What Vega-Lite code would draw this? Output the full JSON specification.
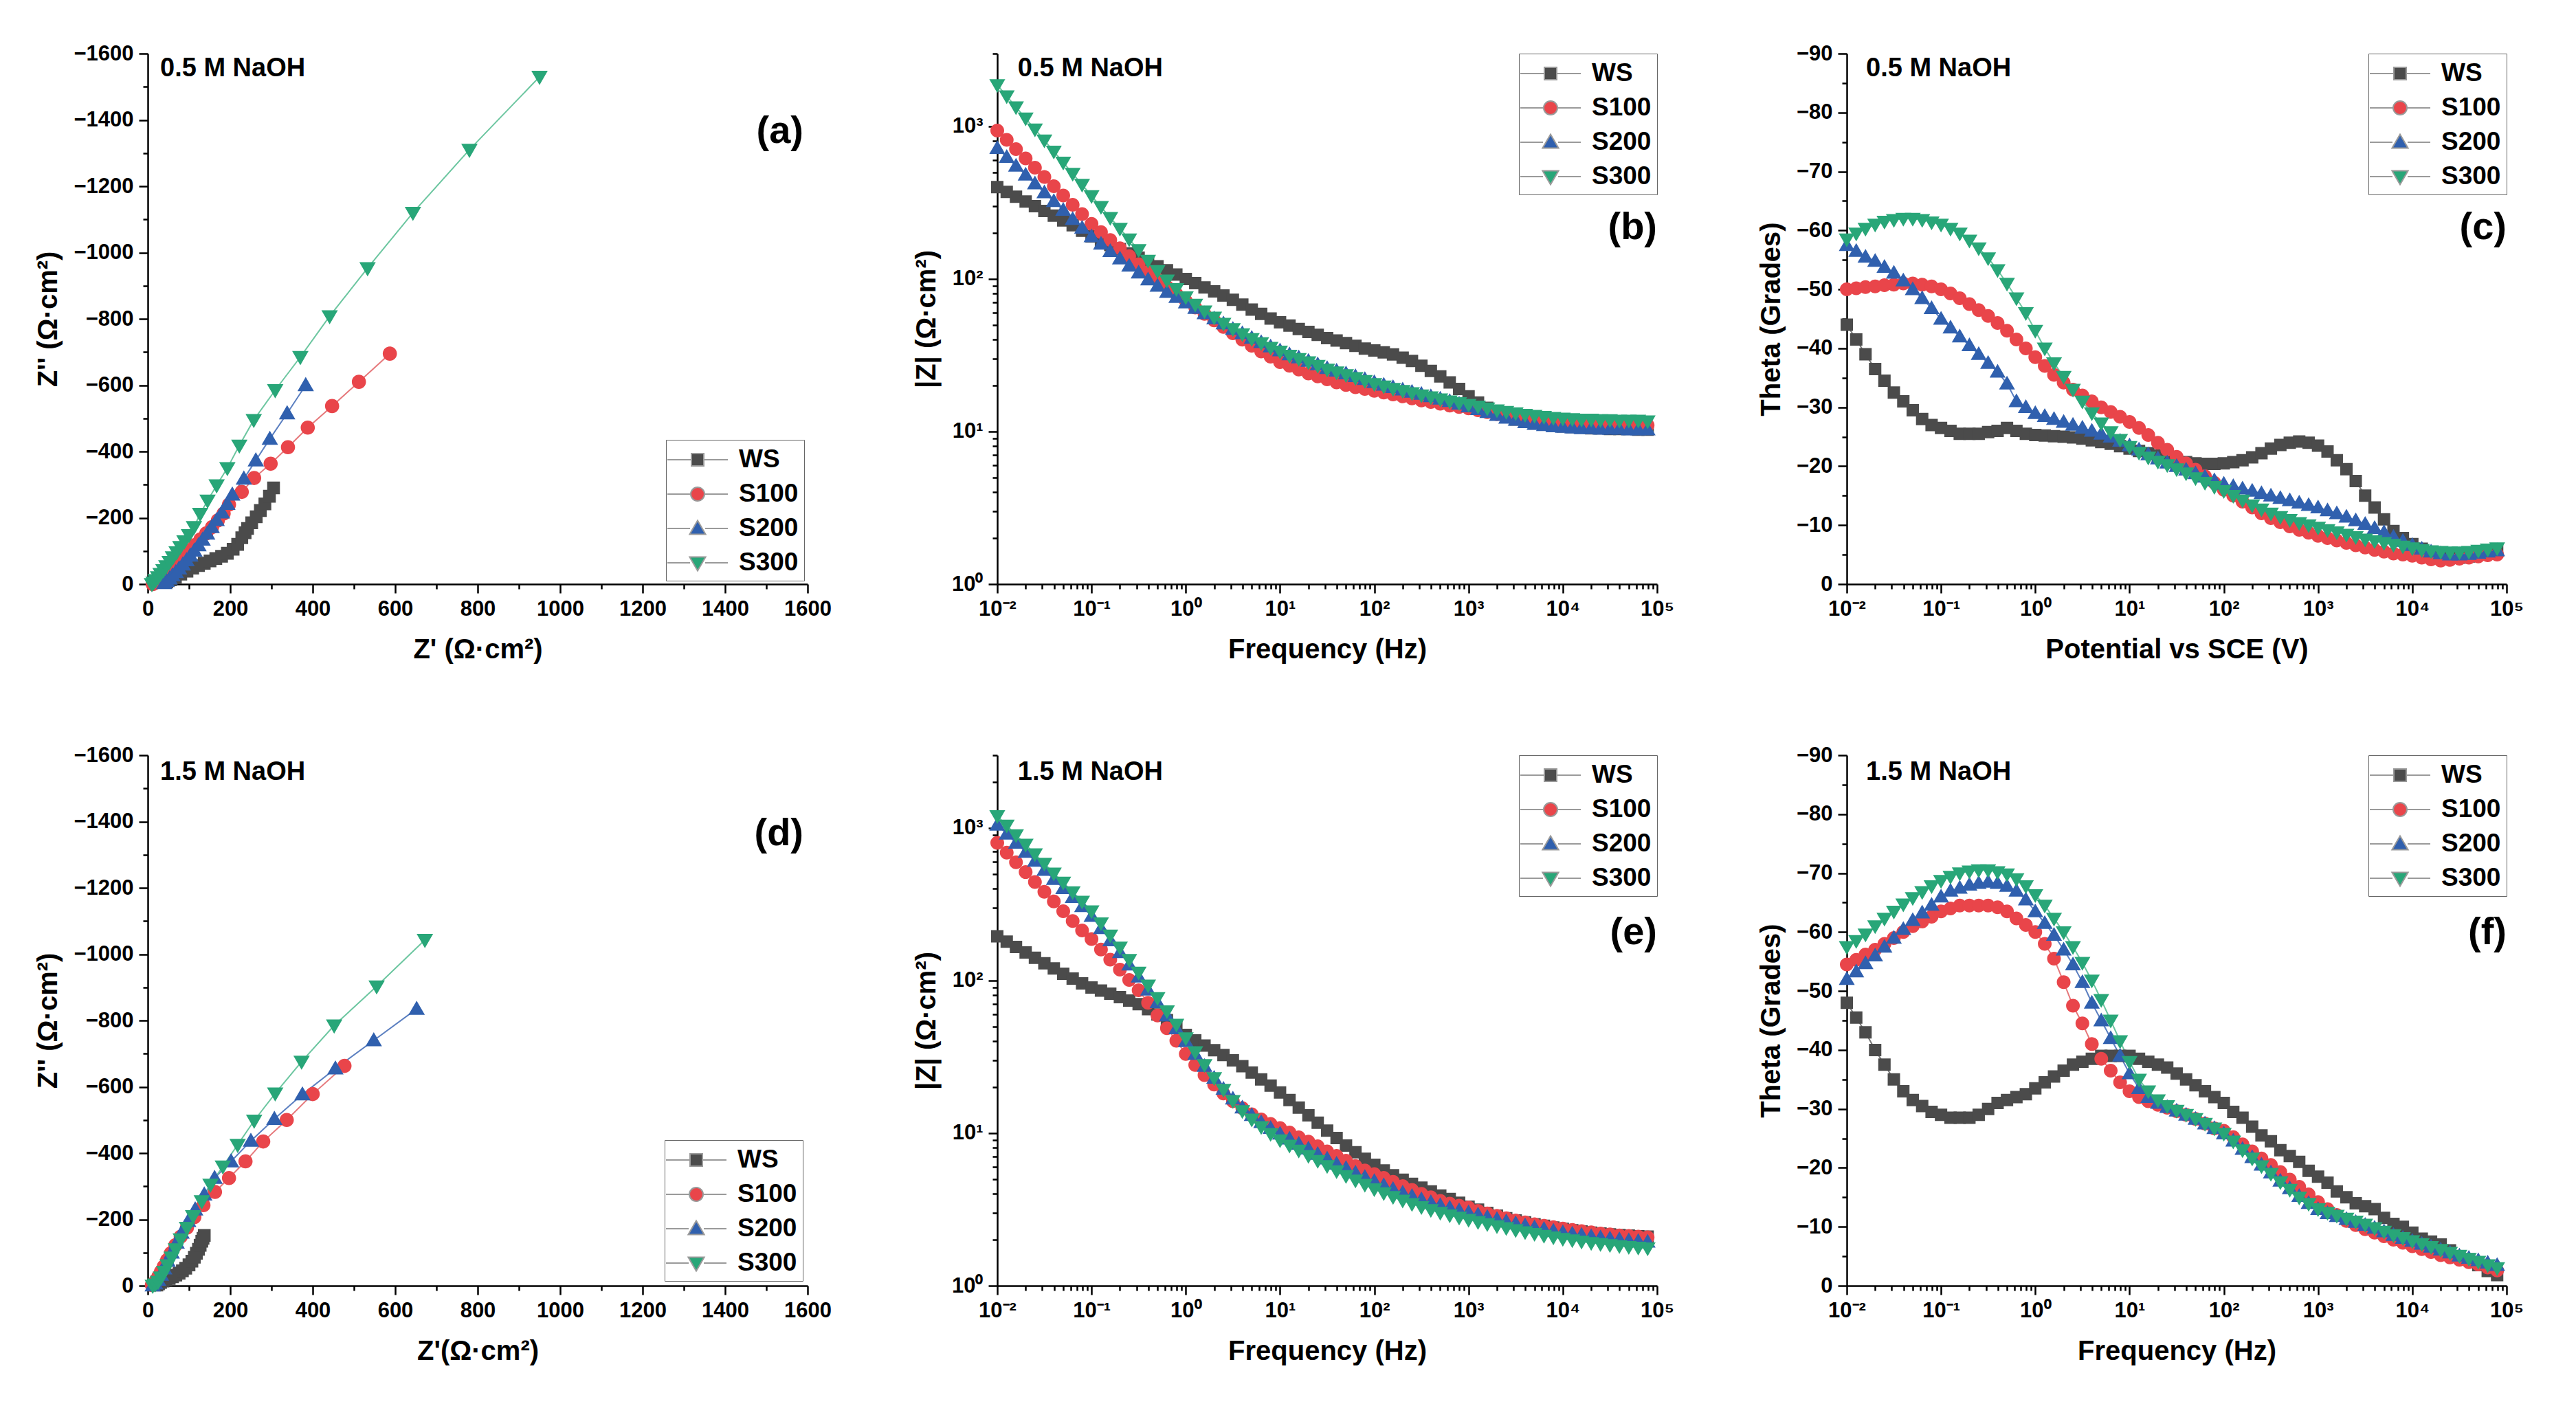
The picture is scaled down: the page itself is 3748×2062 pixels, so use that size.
{
"$schema":"https://vega.github.io/schema/vega-lite/v6.json",
"padding":{"left":50,"top":62,"right":5,"bottom":5},
"autosize":{"type":"pad"},
"background":"white",
"config":{
"font":"Liberation Sans",
"view":{"stroke":null},
"axis":{"grid":false,"domainColor":"#000","domainWidth":2.5,"tickColor":"#000","tickWidth":2.5,"labelFont":"Liberation Sans","labelFontSize":31,"labelFontWeight":"bold","labelColor":"#000","titleFont":"Liberation Sans","titleFontSize":40,"titleFontWeight":"bold","titleColor":"#000","labelOverlap":false,"labelFlush":false,"labelPadding":8,"titlePadding":16},
"axisX":{"titlePadding":24},
"legend":{"labelFont":"Liberation Sans","labelFontSize":37,"labelFontWeight":"bold","labelColor":"#000","strokeColor":"#666","fillColor":"#fff","padding":8,"rowPadding":11,"symbolSize":1600,"symbolStrokeWidth":2,"symbolStrokeColor":"#9a9a9a","symbolOffset":17,"labelOffset":39,"offset":0}
},
"datasets":{
"n05":[
{"s":"WS","x":46,"y":-7},{"s":"WS","x":55,"y":-13},{"s":"WS","x":67,"y":-21},{"s":"WS","x":80,"y":-30},{"s":"WS","x":95,"y":-39},{"s":"WS","x":109,"y":-48},{"s":"WS","x":123,"y":-56},{"s":"WS","x":137,"y":-63},{"s":"WS","x":151,"y":-70},{"s":"WS","x":165,"y":-77},{"s":"WS","x":179,"y":-84},{"s":"WS","x":193,"y":-93},{"s":"WS","x":207,"y":-105},{"s":"WS","x":218,"y":-120},{"s":"WS","x":228,"y":-140},{"s":"WS","x":236,"y":-155},{"s":"WS","x":242,"y":-168},{"s":"WS","x":252,"y":-185},{"s":"WS","x":263,"y":-203},{"s":"WS","x":273,"y":-222},{"s":"WS","x":284,"y":-242},{"s":"WS","x":295,"y":-265},{"s":"WS","x":305,"y":-290},
{"s":"S100","x":12,"y":0},{"s":"S100","x":18,"y":-4},{"s":"S100","x":25,"y":-10},{"s":"S100","x":32,"y":-17},{"s":"S100","x":40,"y":-26},{"s":"S100","x":49,"y":-37},{"s":"S100","x":58,"y":-48},{"s":"S100","x":68,"y":-60},{"s":"S100","x":79,"y":-73},{"s":"S100","x":90,"y":-87},{"s":"S100","x":102,"y":-102},{"s":"S100","x":115,"y":-118},{"s":"S100","x":128,"y":-135},{"s":"S100","x":142,"y":-153},{"s":"S100","x":156,"y":-172},{"s":"S100","x":170,"y":-192},{"s":"S100","x":184,"y":-213},{"s":"S100","x":197,"y":-240},{"s":"S100","x":228,"y":-278},{"s":"S100","x":258,"y":-320},{"s":"S100","x":298,"y":-363},{"s":"S100","x":340,"y":-413},{"s":"S100","x":388,"y":-472},{"s":"S100","x":447,"y":-537},{"s":"S100","x":512,"y":-610},{"s":"S100","x":587,"y":-695},
{"s":"S200","x":40,"y":-3},{"s":"S200","x":46,"y":-9},{"s":"S200","x":53,"y":-17},{"s":"S200","x":60,"y":-26},{"s":"S200","x":68,"y":-36},{"s":"S200","x":76,"y":-47},{"s":"S200","x":85,"y":-59},{"s":"S200","x":94,"y":-72},{"s":"S200","x":103,"y":-86},{"s":"S200","x":113,"y":-101},{"s":"S200","x":123,"y":-117},{"s":"S200","x":133,"y":-134},{"s":"S200","x":144,"y":-152},{"s":"S200","x":155,"y":-172},{"s":"S200","x":167,"y":-193},{"s":"S200","x":180,"y":-216},{"s":"S200","x":193,"y":-242},{"s":"S200","x":205,"y":-270},{"s":"S200","x":233,"y":-318},{"s":"S200","x":262,"y":-373},{"s":"S200","x":296,"y":-438},{"s":"S200","x":338,"y":-515},{"s":"S200","x":383,"y":-600},
{"s":"S300","x":10,"y":0},{"s":"S300","x":14,"y":-5},{"s":"S300","x":19,"y":-12},{"s":"S300","x":25,"y":-21},{"s":"S300","x":31,"y":-31},{"s":"S300","x":38,"y":-42},{"s":"S300","x":45,"y":-54},{"s":"S300","x":53,"y":-67},{"s":"S300","x":61,"y":-81},{"s":"S300","x":70,"y":-96},{"s":"S300","x":79,"y":-112},{"s":"S300","x":89,"y":-129},{"s":"S300","x":100,"y":-148},{"s":"S300","x":112,"y":-172},{"s":"S300","x":127,"y":-212},{"s":"S300","x":145,"y":-252},{"s":"S300","x":167,"y":-298},{"s":"S300","x":193,"y":-350},{"s":"S300","x":222,"y":-418},{"s":"S300","x":257,"y":-495},{"s":"S300","x":309,"y":-585},{"s":"S300","x":370,"y":-685},{"s":"S300","x":441,"y":-808},{"s":"S300","x":533,"y":-953},{"s":"S300","x":643,"y":-1120},{"s":"S300","x":780,"y":-1310},{"s":"S300","x":950,"y":-1530}
],
"n15":[
{"s":"WS","x":22,"y":-2},{"s":"WS","x":26,"y":-6},{"s":"WS","x":31,"y":-10},{"s":"WS","x":37,"y":-14},{"s":"WS","x":44,"y":-18},{"s":"WS","x":52,"y":-22},{"s":"WS","x":60,"y":-27},{"s":"WS","x":68,"y":-32},{"s":"WS","x":76,"y":-38},{"s":"WS","x":84,"y":-45},{"s":"WS","x":92,"y":-53},{"s":"WS","x":100,"y":-63},{"s":"WS","x":107,"y":-74},{"s":"WS","x":113,"y":-86},{"s":"WS","x":118,"y":-98},{"s":"WS","x":123,"y":-110},{"s":"WS","x":127,"y":-122},{"s":"WS","x":131,"y":-134},{"s":"WS","x":134,"y":-143},{"s":"WS","x":137,"y":-152},
{"s":"S100","x":10,"y":-2},{"s":"S100","x":15,"y":-7},{"s":"S100","x":20,"y":-16},{"s":"S100","x":26,"y":-28},{"s":"S100","x":32,"y":-42},{"s":"S100","x":39,"y":-58},{"s":"S100","x":47,"y":-77},{"s":"S100","x":56,"y":-98},{"s":"S100","x":67,"y":-122},{"s":"S100","x":80,"y":-148},{"s":"S100","x":95,"y":-175},{"s":"S100","x":113,"y":-207},{"s":"S100","x":135,"y":-243},{"s":"S100","x":163,"y":-283},{"s":"S100","x":197,"y":-325},{"s":"S100","x":237,"y":-375},{"s":"S100","x":280,"y":-435},{"s":"S100","x":337,"y":-500},{"s":"S100","x":400,"y":-578},{"s":"S100","x":477,"y":-663},
{"s":"S200","x":12,"y":-1},{"s":"S200","x":18,"y":-7},{"s":"S200","x":25,"y":-18},{"s":"S200","x":32,"y":-33},{"s":"S200","x":40,"y":-52},{"s":"S200","x":48,"y":-75},{"s":"S200","x":58,"y":-100},{"s":"S200","x":70,"y":-130},{"s":"S200","x":82,"y":-160},{"s":"S200","x":98,"y":-195},{"s":"S200","x":115,"y":-230},{"s":"S200","x":137,"y":-275},{"s":"S200","x":162,"y":-325},{"s":"S200","x":202,"y":-375},{"s":"S200","x":250,"y":-437},{"s":"S200","x":307,"y":-503},{"s":"S200","x":375,"y":-577},{"s":"S200","x":455,"y":-655},{"s":"S200","x":548,"y":-740},{"s":"S200","x":652,"y":-835},
{"s":"S300","x":12,"y":0},{"s":"S300","x":18,"y":-4},{"s":"S300","x":25,"y":-12},{"s":"S300","x":32,"y":-25},{"s":"S300","x":40,"y":-42},{"s":"S300","x":48,"y":-62},{"s":"S300","x":58,"y":-85},{"s":"S300","x":68,"y":-110},{"s":"S300","x":80,"y":-140},{"s":"S300","x":95,"y":-175},{"s":"S300","x":110,"y":-210},{"s":"S300","x":131,"y":-255},{"s":"S300","x":152,"y":-305},{"s":"S300","x":182,"y":-360},{"s":"S300","x":218,"y":-425},{"s":"S300","x":258,"y":-498},{"s":"S300","x":309,"y":-580},{"s":"S300","x":373,"y":-676},{"s":"S300","x":452,"y":-785},{"s":"S300","x":555,"y":-903},{"s":"S300","x":672,"y":-1043}
],
"b05":[
{"f":0.01,"s":"WS","z":400,"p":-44},{"f":0.0126,"s":"WS","z":372,"p":-41.5},{"f":0.0158,"s":"WS","z":346,"p":-39},{"f":0.02,"s":"WS","z":322,"p":-36.5},{"f":0.0251,"s":"WS","z":300,"p":-34.5},{"f":0.0316,"s":"WS","z":279,"p":-32.5},{"f":0.0398,"s":"WS","z":260,"p":-31},{"f":0.0501,"s":"WS","z":242,"p":-29.5},{"f":0.0631,"s":"WS","z":225,"p":-28},{"f":0.0794,"s":"WS","z":207,"p":-27},
{"f":0.1,"s":"WS","z":190,"p":-26.5},{"f":0.126,"s":"WS","z":178,"p":-26},{"f":0.158,"s":"WS","z":167,"p":-25.5},{"f":0.2,"s":"WS","z":157,"p":-25.5},{"f":0.251,"s":"WS","z":147,"p":-25.5},{"f":0.316,"s":"WS","z":138,"p":-25.8},{"f":0.398,"s":"WS","z":129,"p":-26},{"f":0.501,"s":"WS","z":121,"p":-26.5},{"f":0.631,"s":"WS","z":114,"p":-26},{"f":0.794,"s":"WS","z":107,"p":-25.5},
{"f":1,"s":"WS","z":100,"p":-25.3},{"f":1.26,"s":"WS","z":94,"p":-25.2},{"f":1.58,"s":"WS","z":88,"p":-25.1},{"f":2,"s":"WS","z":83,"p":-25},{"f":2.51,"s":"WS","z":78,"p":-24.9},{"f":3.16,"s":"WS","z":73,"p":-24.7},{"f":3.98,"s":"WS","z":68,"p":-24.4},{"f":5.01,"s":"WS","z":63,"p":-24.1},{"f":6.31,"s":"WS","z":59,"p":-23.8},{"f":7.94,"s":"WS","z":55,"p":-23.4},
{"f":10,"s":"WS","z":52,"p":-23},{"f":12.6,"s":"WS","z":49.5,"p":-22.6},{"f":15.8,"s":"WS","z":47,"p":-22.2},{"f":20,"s":"WS","z":45,"p":-21.8},{"f":25.1,"s":"WS","z":43,"p":-21.4},{"f":31.6,"s":"WS","z":41,"p":-21},{"f":39.8,"s":"WS","z":39.5,"p":-20.7},{"f":50.1,"s":"WS","z":38,"p":-20.5},{"f":63.1,"s":"WS","z":36.5,"p":-20.4},{"f":79.4,"s":"WS","z":35,"p":-20.4},
{"f":100,"s":"WS","z":34,"p":-20.5},{"f":126,"s":"WS","z":33,"p":-20.7},{"f":158,"s":"WS","z":32,"p":-21},{"f":200,"s":"WS","z":30.5,"p":-21.5},{"f":251,"s":"WS","z":29,"p":-22.2},{"f":316,"s":"WS","z":27,"p":-23},{"f":398,"s":"WS","z":25,"p":-23.6},{"f":501,"s":"WS","z":23,"p":-24},{"f":631,"s":"WS","z":21,"p":-24.2},{"f":794,"s":"WS","z":19,"p":-24},
{"f":1000,"s":"WS","z":17,"p":-23.5},{"f":1260,"s":"WS","z":15.5,"p":-22.5},{"f":1580,"s":"WS","z":14.3,"p":-21},{"f":2000,"s":"WS","z":13.3,"p":-19.5},{"f":2510,"s":"WS","z":12.5,"p":-17.5},{"f":3160,"s":"WS","z":12,"p":-15},{"f":3980,"s":"WS","z":11.6,"p":-13},{"f":5010,"s":"WS","z":11.3,"p":-11},{"f":6310,"s":"WS","z":11.1,"p":-9},{"f":7940,"s":"WS","z":10.9,"p":-7.8},
{"f":10000,"s":"WS","z":10.8,"p":-6.8},{"f":12600,"s":"WS","z":10.7,"p":-6},{"f":15800,"s":"WS","z":10.6,"p":-5.3},{"f":20000,"s":"WS","z":10.5,"p":-4.8},{"f":25100,"s":"WS","z":10.5,"p":-4.5},{"f":31600,"s":"WS","z":10.4,"p":-4.5},{"f":39800,"s":"WS","z":10.4,"p":-4.7},{"f":50100,"s":"WS","z":10.4,"p":-5},{"f":63100,"s":"WS","z":10.3,"p":-5.3},{"f":79400,"s":"WS","z":10.3,"p":-5.6},
{"f":0.01,"s":"S100","z":940,"p":-50},{"f":0.0126,"s":"S100","z":817,"p":-50.2},{"f":0.0158,"s":"S100","z":710,"p":-50.4},{"f":0.02,"s":"S100","z":617,"p":-50.5},{"f":0.0251,"s":"S100","z":536,"p":-50.7},{"f":0.0316,"s":"S100","z":466,"p":-50.8},{"f":0.0398,"s":"S100","z":405,"p":-51},{"f":0.0501,"s":"S100","z":352,"p":-51},{"f":0.0631,"s":"S100","z":306,"p":-50.8},{"f":0.0794,"s":"S100","z":266,"p":-50.5},
{"f":0.1,"s":"S100","z":230,"p":-50},{"f":0.126,"s":"S100","z":203,"p":-49.3},{"f":0.158,"s":"S100","z":180,"p":-48.5},{"f":0.2,"s":"S100","z":159,"p":-47.5},{"f":0.251,"s":"S100","z":141,"p":-46.5},{"f":0.316,"s":"S100","z":125,"p":-45.5},{"f":0.398,"s":"S100","z":111,"p":-44.3},{"f":0.501,"s":"S100","z":99,"p":-43},{"f":0.631,"s":"S100","z":89,"p":-41.5},{"f":0.794,"s":"S100","z":80,"p":-40},
{"f":1,"s":"S100","z":72,"p":-38.5},{"f":1.26,"s":"S100","z":65,"p":-37},{"f":1.58,"s":"S100","z":59,"p":-35.5},{"f":2,"s":"S100","z":53.5,"p":-34.2},{"f":2.51,"s":"S100","z":48.5,"p":-33},{"f":3.16,"s":"S100","z":44,"p":-32},{"f":3.98,"s":"S100","z":40,"p":-31},{"f":5.01,"s":"S100","z":36.5,"p":-30},{"f":6.31,"s":"S100","z":33.5,"p":-29.2},{"f":7.94,"s":"S100","z":31,"p":-28.4},
{"f":10,"s":"S100","z":28.5,"p":-27.5},{"f":12.6,"s":"S100","z":27,"p":-26.5},{"f":15.8,"s":"S100","z":25.5,"p":-25.3},{"f":20,"s":"S100","z":24,"p":-24},{"f":25.1,"s":"S100","z":23,"p":-22.8},{"f":31.6,"s":"S100","z":22,"p":-21.6},{"f":39.8,"s":"S100","z":21,"p":-20.5},{"f":50.1,"s":"S100","z":20.2,"p":-19.4},{"f":63.1,"s":"S100","z":19.5,"p":-18.3},{"f":79.4,"s":"S100","z":19,"p":-17.2},
{"f":100,"s":"S100","z":18.5,"p":-16},{"f":126,"s":"S100","z":18,"p":-15},{"f":158,"s":"S100","z":17.5,"p":-14},{"f":200,"s":"S100","z":17,"p":-13},{"f":251,"s":"S100","z":16.5,"p":-12},{"f":316,"s":"S100","z":16,"p":-11.2},{"f":398,"s":"S100","z":15.6,"p":-10.5},{"f":501,"s":"S100","z":15.2,"p":-9.8},{"f":631,"s":"S100","z":14.8,"p":-9.2},{"f":794,"s":"S100","z":14.5,"p":-8.7},
{"f":1000,"s":"S100","z":14.2,"p":-8.2},{"f":1260,"s":"S100","z":13.8,"p":-7.8},{"f":1580,"s":"S100","z":13.4,"p":-7.4},{"f":2000,"s":"S100","z":13,"p":-7},{"f":2510,"s":"S100","z":12.6,"p":-6.6},{"f":3160,"s":"S100","z":12.3,"p":-6.2},{"f":3980,"s":"S100","z":12,"p":-5.8},{"f":5010,"s":"S100","z":11.8,"p":-5.5},{"f":6310,"s":"S100","z":11.6,"p":-5.2},{"f":7940,"s":"S100","z":11.5,"p":-5},
{"f":10000,"s":"S100","z":11.4,"p":-4.8},{"f":12600,"s":"S100","z":11.3,"p":-4.5},{"f":15800,"s":"S100","z":11.3,"p":-4.2},{"f":20000,"s":"S100","z":11.2,"p":-4},{"f":25100,"s":"S100","z":11.2,"p":-4.1},{"f":31600,"s":"S100","z":11.1,"p":-4.3},{"f":39800,"s":"S100","z":11.1,"p":-4.5},{"f":50100,"s":"S100","z":11.1,"p":-4.7},{"f":63100,"s":"S100","z":11,"p":-4.9},{"f":79400,"s":"S100","z":11,"p":-5},
{"f":0.01,"s":"S200","z":720,"p":-57.5},{"f":0.0126,"s":"S200","z":630,"p":-56.5},{"f":0.0158,"s":"S200","z":551,"p":-55.5},{"f":0.02,"s":"S200","z":482,"p":-54.8},{"f":0.0251,"s":"S200","z":422,"p":-53.8},{"f":0.0316,"s":"S200","z":369,"p":-52.8},{"f":0.0398,"s":"S200","z":323,"p":-51.5},{"f":0.0501,"s":"S200","z":283,"p":-50},{"f":0.0631,"s":"S200","z":247,"p":-48.5},{"f":0.0794,"s":"S200","z":216,"p":-46.8},
{"f":0.1,"s":"S200","z":190,"p":-45},{"f":0.126,"s":"S200","z":170,"p":-43.5},{"f":0.158,"s":"S200","z":152,"p":-42},{"f":0.2,"s":"S200","z":136,"p":-40.5},{"f":0.251,"s":"S200","z":122,"p":-39},{"f":0.316,"s":"S200","z":110,"p":-37.5},{"f":0.398,"s":"S200","z":99,"p":-36},{"f":0.501,"s":"S200","z":90,"p":-34},{"f":0.631,"s":"S200","z":82,"p":-31},{"f":0.794,"s":"S200","z":76,"p":-30},
{"f":1,"s":"S200","z":70,"p":-29},{"f":1.26,"s":"S200","z":64.5,"p":-28.5},{"f":1.58,"s":"S200","z":59.5,"p":-28},{"f":2,"s":"S200","z":55,"p":-27.5},{"f":2.51,"s":"S200","z":51,"p":-27},{"f":3.16,"s":"S200","z":47,"p":-26.5},{"f":3.98,"s":"S200","z":44,"p":-26},{"f":5.01,"s":"S200","z":41,"p":-25.5},{"f":6.31,"s":"S200","z":38.5,"p":-25},{"f":7.94,"s":"S200","z":36,"p":-24.3},
{"f":10,"s":"S200","z":34,"p":-23.5},{"f":12.6,"s":"S200","z":32,"p":-22.8},{"f":15.8,"s":"S200","z":30.5,"p":-22},{"f":20,"s":"S200","z":29,"p":-21.3},{"f":25.1,"s":"S200","z":27.5,"p":-20.6},{"f":31.6,"s":"S200","z":26,"p":-20},{"f":39.8,"s":"S200","z":25,"p":-19.4},{"f":50.1,"s":"S200","z":24,"p":-18.8},{"f":63.1,"s":"S200","z":23,"p":-18.2},{"f":79.4,"s":"S200","z":22,"p":-17.6},
{"f":100,"s":"S200","z":21,"p":-17},{"f":126,"s":"S200","z":20.2,"p":-16.6},{"f":158,"s":"S200","z":19.5,"p":-16.2},{"f":200,"s":"S200","z":18.8,"p":-15.8},{"f":251,"s":"S200","z":18.2,"p":-15.4},{"f":316,"s":"S200","z":17.6,"p":-15},{"f":398,"s":"S200","z":17,"p":-14.6},{"f":501,"s":"S200","z":16.4,"p":-14.2},{"f":631,"s":"S200","z":15.8,"p":-13.8},{"f":794,"s":"S200","z":15.2,"p":-13.4},
{"f":1000,"s":"S200","z":14.6,"p":-13},{"f":1260,"s":"S200","z":14,"p":-12.5},{"f":1580,"s":"S200","z":13.4,"p":-12},{"f":2000,"s":"S200","z":12.8,"p":-11.4},{"f":2510,"s":"S200","z":12.3,"p":-10.8},{"f":3160,"s":"S200","z":11.9,"p":-10.2},{"f":3980,"s":"S200","z":11.5,"p":-9.5},{"f":5010,"s":"S200","z":11.2,"p":-8.8},{"f":6310,"s":"S200","z":11,"p":-8},{"f":7940,"s":"S200","z":10.8,"p":-7.3},
{"f":10000,"s":"S200","z":10.7,"p":-6.6},{"f":12600,"s":"S200","z":10.6,"p":-6},{"f":15800,"s":"S200","z":10.5,"p":-5.5},{"f":20000,"s":"S200","z":10.5,"p":-5.2},{"f":25100,"s":"S200","z":10.4,"p":-5},{"f":31600,"s":"S200","z":10.4,"p":-5},{"f":39800,"s":"S200","z":10.4,"p":-5.1},{"f":50100,"s":"S200","z":10.3,"p":-5.3},{"f":63100,"s":"S200","z":10.3,"p":-5.5},{"f":79400,"s":"S200","z":10.3,"p":-5.7},
{"f":0.01,"s":"S300","z":1870,"p":-58.5},{"f":0.0126,"s":"S300","z":1580,"p":-59.5},{"f":0.0158,"s":"S300","z":1337,"p":-60.3},{"f":0.02,"s":"S300","z":1131,"p":-61},{"f":0.0251,"s":"S300","z":957,"p":-61.5},{"f":0.0316,"s":"S300","z":810,"p":-61.8},{"f":0.0398,"s":"S300","z":685,"p":-62},{"f":0.0501,"s":"S300","z":580,"p":-62},{"f":0.0631,"s":"S300","z":490,"p":-61.8},{"f":0.0794,"s":"S300","z":415,"p":-61.4},
{"f":0.1,"s":"S300","z":350,"p":-61},{"f":0.126,"s":"S300","z":297,"p":-60.3},{"f":0.158,"s":"S300","z":252,"p":-59.5},{"f":0.2,"s":"S300","z":214,"p":-58.3},{"f":0.251,"s":"S300","z":182,"p":-57},{"f":0.316,"s":"S300","z":155,"p":-55.3},{"f":0.398,"s":"S300","z":132,"p":-53.3},{"f":0.501,"s":"S300","z":113,"p":-51},{"f":0.631,"s":"S300","z":98,"p":-48.5},{"f":0.794,"s":"S300","z":86,"p":-46},
{"f":1,"s":"S300","z":76,"p":-43},{"f":1.26,"s":"S300","z":68,"p":-40},{"f":1.58,"s":"S300","z":61.5,"p":-37.5},{"f":2,"s":"S300","z":56,"p":-35.2},{"f":2.51,"s":"S300","z":51,"p":-33},{"f":3.16,"s":"S300","z":47,"p":-31},{"f":3.98,"s":"S300","z":43.5,"p":-29},{"f":5.01,"s":"S300","z":40.5,"p":-27.3},{"f":6.31,"s":"S300","z":38,"p":-25.8},{"f":7.94,"s":"S300","z":35.5,"p":-24.5},
{"f":10,"s":"S300","z":33.5,"p":-23.3},{"f":12.6,"s":"S300","z":31.5,"p":-22.3},{"f":15.8,"s":"S300","z":30,"p":-21.5},{"f":20,"s":"S300","z":28.5,"p":-20.8},{"f":25.1,"s":"S300","z":27,"p":-20.2},{"f":31.6,"s":"S300","z":25.5,"p":-19.5},{"f":39.8,"s":"S300","z":24.5,"p":-18.8},{"f":50.1,"s":"S300","z":23.5,"p":-18},{"f":63.1,"s":"S300","z":22.5,"p":-17.2},{"f":79.4,"s":"S300","z":21.5,"p":-16.5},
{"f":100,"s":"S300","z":20.5,"p":-15.8},{"f":126,"s":"S300","z":19.8,"p":-15},{"f":158,"s":"S300","z":19.1,"p":-14.2},{"f":200,"s":"S300","z":18.5,"p":-13.4},{"f":251,"s":"S300","z":17.9,"p":-12.7},{"f":316,"s":"S300","z":17.3,"p":-12},{"f":398,"s":"S300","z":16.8,"p":-11.4},{"f":501,"s":"S300","z":16.3,"p":-10.9},{"f":631,"s":"S300","z":15.8,"p":-10.4},{"f":794,"s":"S300","z":15.4,"p":-10},
{"f":1000,"s":"S300","z":15,"p":-9.6},{"f":1260,"s":"S300","z":14.6,"p":-9.2},{"f":1580,"s":"S300","z":14.2,"p":-8.8},{"f":2000,"s":"S300","z":13.8,"p":-8.4},{"f":2510,"s":"S300","z":13.5,"p":-8},{"f":3160,"s":"S300","z":13.2,"p":-7.6},{"f":3980,"s":"S300","z":12.9,"p":-7.3},{"f":5010,"s":"S300","z":12.7,"p":-7},{"f":6310,"s":"S300","z":12.5,"p":-6.7},{"f":7940,"s":"S300","z":12.3,"p":-6.4},
{"f":10000,"s":"S300","z":12.2,"p":-6.1},{"f":12600,"s":"S300","z":12.1,"p":-5.8},{"f":15800,"s":"S300","z":12,"p":-5.6},{"f":20000,"s":"S300","z":12,"p":-5.5},{"f":25100,"s":"S300","z":11.9,"p":-5.4},{"f":31600,"s":"S300","z":11.9,"p":-5.4},{"f":39800,"s":"S300","z":11.8,"p":-5.5},{"f":50100,"s":"S300","z":11.8,"p":-5.7},{"f":63100,"s":"S300","z":11.8,"p":-5.9},{"f":79400,"s":"S300","z":11.7,"p":-6.1}
],
"b15":[
{"f":0.01,"s":"WS","z":195,"p":-48},{"f":0.0126,"s":"WS","z":180,"p":-45.5},{"f":0.0158,"s":"WS","z":166,"p":-43},{"f":0.02,"s":"WS","z":153,"p":-40},{"f":0.0251,"s":"WS","z":141,"p":-37.5},{"f":0.0316,"s":"WS","z":130,"p":-35},{"f":0.0398,"s":"WS","z":120,"p":-33},{"f":0.0501,"s":"WS","z":111,"p":-31.5},{"f":0.0631,"s":"WS","z":103,"p":-30.5},{"f":0.0794,"s":"WS","z":96,"p":-29.5},
{"f":0.1,"s":"WS","z":90,"p":-29},{"f":0.126,"s":"WS","z":86,"p":-28.5},{"f":0.158,"s":"WS","z":82,"p":-28.5},{"f":0.2,"s":"WS","z":78,"p":-28.5},{"f":0.251,"s":"WS","z":74,"p":-29},{"f":0.316,"s":"WS","z":70,"p":-30},{"f":0.398,"s":"WS","z":65,"p":-31},{"f":0.501,"s":"WS","z":60,"p":-31.5},{"f":0.631,"s":"WS","z":55,"p":-32},{"f":0.794,"s":"WS","z":50,"p":-32.5},
{"f":1,"s":"WS","z":44,"p":-33.5},{"f":1.26,"s":"WS","z":40.5,"p":-34.5},{"f":1.58,"s":"WS","z":37.5,"p":-35.5},{"f":2,"s":"WS","z":35,"p":-36.5},{"f":2.51,"s":"WS","z":32.5,"p":-37.5},{"f":3.16,"s":"WS","z":30,"p":-38},{"f":3.98,"s":"WS","z":27.5,"p":-38.5},{"f":5.01,"s":"WS","z":25,"p":-39},{"f":6.31,"s":"WS","z":22.5,"p":-39},{"f":7.94,"s":"WS","z":20.5,"p":-39},
{"f":10,"s":"WS","z":18.5,"p":-39},{"f":12.6,"s":"WS","z":16.5,"p":-38.5},{"f":15.8,"s":"WS","z":14.7,"p":-38},{"f":20,"s":"WS","z":13.1,"p":-37.5},{"f":25.1,"s":"WS","z":11.7,"p":-37},{"f":31.6,"s":"WS","z":10.4,"p":-36},{"f":39.8,"s":"WS","z":9.3,"p":-35},{"f":50.1,"s":"WS","z":8.3,"p":-34},{"f":63.1,"s":"WS","z":7.5,"p":-33},{"f":79.4,"s":"WS","z":6.8,"p":-32},
{"f":100,"s":"WS","z":6.2,"p":-31},{"f":126,"s":"WS","z":5.7,"p":-29.5},{"f":158,"s":"WS","z":5.3,"p":-28.5},{"f":200,"s":"WS","z":4.95,"p":-27},{"f":251,"s":"WS","z":4.65,"p":-25.5},{"f":316,"s":"WS","z":4.4,"p":-24.5},{"f":398,"s":"WS","z":4.15,"p":-23},{"f":501,"s":"WS","z":3.9,"p":-22},{"f":631,"s":"WS","z":3.7,"p":-21},{"f":794,"s":"WS","z":3.5,"p":-19.5},
{"f":1000,"s":"WS","z":3.3,"p":-18.5},{"f":1260,"s":"WS","z":3.15,"p":-17.5},{"f":1580,"s":"WS","z":3,"p":-16},{"f":2000,"s":"WS","z":2.88,"p":-15},{"f":2510,"s":"WS","z":2.77,"p":-14},{"f":3160,"s":"WS","z":2.68,"p":-13.5},{"f":3980,"s":"WS","z":2.6,"p":-13},{"f":5010,"s":"WS","z":2.53,"p":-11.5},{"f":6310,"s":"WS","z":2.47,"p":-10.5},{"f":7940,"s":"WS","z":2.41,"p":-10},
{"f":10000,"s":"WS","z":2.36,"p":-9},{"f":12600,"s":"WS","z":2.31,"p":-8},{"f":15800,"s":"WS","z":2.27,"p":-7.5},{"f":20000,"s":"WS","z":2.23,"p":-7},{"f":25100,"s":"WS","z":2.2,"p":-6},{"f":31600,"s":"WS","z":2.17,"p":-5},{"f":39800,"s":"WS","z":2.15,"p":-4.5},{"f":50100,"s":"WS","z":2.13,"p":-3.5},{"f":63100,"s":"WS","z":2.11,"p":-2.5},{"f":79400,"s":"WS","z":2.1,"p":-1.8},
{"f":0.01,"s":"S100","z":800,"p":-54.5},{"f":0.0126,"s":"S100","z":690,"p":-55.3},{"f":0.0158,"s":"S100","z":596,"p":-56.2},{"f":0.02,"s":"S100","z":514,"p":-57},{"f":0.0251,"s":"S100","z":443,"p":-58},{"f":0.0316,"s":"S100","z":382,"p":-59},{"f":0.0398,"s":"S100","z":330,"p":-60},{"f":0.0501,"s":"S100","z":285,"p":-61},{"f":0.0631,"s":"S100","z":246,"p":-61.8},{"f":0.0794,"s":"S100","z":213,"p":-62.6},
{"f":0.1,"s":"S100","z":187,"p":-63.5},{"f":0.126,"s":"S100","z":160,"p":-64},{"f":0.158,"s":"S100","z":137,"p":-64.5},{"f":0.2,"s":"S100","z":118,"p":-64.5},{"f":0.251,"s":"S100","z":101,"p":-64.5},{"f":0.316,"s":"S100","z":86.5,"p":-64.5},{"f":0.398,"s":"S100","z":71.5,"p":-64.2},{"f":0.501,"s":"S100","z":59,"p":-63.5},{"f":0.631,"s":"S100","z":48.8,"p":-62.3},{"f":0.794,"s":"S100","z":40.3,"p":-61.2},
{"f":1,"s":"S100","z":33,"p":-60},{"f":1.26,"s":"S100","z":28,"p":-58},{"f":1.58,"s":"S100","z":24,"p":-55.5},{"f":2,"s":"S100","z":20.8,"p":-51.5},{"f":2.51,"s":"S100","z":18.2,"p":-47.5},{"f":3.16,"s":"S100","z":16.2,"p":-44.5},{"f":3.98,"s":"S100","z":14.6,"p":-41},{"f":5.01,"s":"S100","z":13.3,"p":-38.5},{"f":6.31,"s":"S100","z":12.3,"p":-36.5},{"f":7.94,"s":"S100","z":11.5,"p":-34.5},
{"f":10,"s":"S100","z":10.8,"p":-33},{"f":12.6,"s":"S100","z":10.1,"p":-32},{"f":15.8,"s":"S100","z":9.4,"p":-31.3},{"f":20,"s":"S100","z":8.8,"p":-30.7},{"f":25.1,"s":"S100","z":8.2,"p":-30.2},{"f":31.6,"s":"S100","z":7.6,"p":-29.6},{"f":39.8,"s":"S100","z":7.1,"p":-29},{"f":50.1,"s":"S100","z":6.6,"p":-28.3},{"f":63.1,"s":"S100","z":6.1,"p":-27.5},{"f":79.4,"s":"S100","z":5.7,"p":-26.7},
{"f":100,"s":"S100","z":5.4,"p":-26.3},{"f":126,"s":"S100","z":5.1,"p":-25.2},{"f":158,"s":"S100","z":4.8,"p":-24},{"f":200,"s":"S100","z":4.5,"p":-22.8},{"f":251,"s":"S100","z":4.25,"p":-21.6},{"f":316,"s":"S100","z":4,"p":-20.5},{"f":398,"s":"S100","z":3.8,"p":-19.3},{"f":501,"s":"S100","z":3.6,"p":-18},{"f":631,"s":"S100","z":3.45,"p":-16.8},{"f":794,"s":"S100","z":3.35,"p":-15.5},
{"f":1000,"s":"S100","z":3.25,"p":-14.2},{"f":1260,"s":"S100","z":3.1,"p":-13},{"f":1580,"s":"S100","z":2.98,"p":-12},{"f":2000,"s":"S100","z":2.87,"p":-11},{"f":2510,"s":"S100","z":2.77,"p":-10.3},{"f":3160,"s":"S100","z":2.68,"p":-9.6},{"f":3980,"s":"S100","z":2.6,"p":-9},{"f":5010,"s":"S100","z":2.53,"p":-8.4},{"f":6310,"s":"S100","z":2.47,"p":-7.8},{"f":7940,"s":"S100","z":2.42,"p":-7.3},
{"f":10000,"s":"S100","z":2.37,"p":-6.7},{"f":12600,"s":"S100","z":2.32,"p":-6.2},{"f":15800,"s":"S100","z":2.28,"p":-5.7},{"f":20000,"s":"S100","z":2.24,"p":-5.2},{"f":25100,"s":"S100","z":2.2,"p":-4.8},{"f":31600,"s":"S100","z":2.17,"p":-4.4},{"f":39800,"s":"S100","z":2.14,"p":-4},{"f":50100,"s":"S100","z":2.12,"p":-3.6},{"f":63100,"s":"S100","z":2.1,"p":-3.1},{"f":79400,"s":"S100","z":2.08,"p":-2.6},
{"f":0.01,"s":"S200","z":1050,"p":-52},{"f":0.0126,"s":"S200","z":916,"p":-53.3},{"f":0.0158,"s":"S200","z":799,"p":-54.7},{"f":0.02,"s":"S200","z":697,"p":-56},{"f":0.0251,"s":"S200","z":608,"p":-57.5},{"f":0.0316,"s":"S200","z":530,"p":-59},{"f":0.0398,"s":"S200","z":462,"p":-60.5},{"f":0.0501,"s":"S200","z":403,"p":-62},{"f":0.0631,"s":"S200","z":352,"p":-63.3},{"f":0.0794,"s":"S200","z":307,"p":-64.6},
{"f":0.1,"s":"S200","z":265,"p":-66},{"f":0.126,"s":"S200","z":220,"p":-67},{"f":0.158,"s":"S200","z":183,"p":-67.5},{"f":0.2,"s":"S200","z":153,"p":-68},{"f":0.251,"s":"S200","z":127,"p":-68.3},{"f":0.316,"s":"S200","z":106,"p":-68.5},{"f":0.398,"s":"S200","z":87,"p":-68.3},{"f":0.501,"s":"S200","z":72,"p":-67.8},{"f":0.631,"s":"S200","z":59,"p":-67},{"f":0.794,"s":"S200","z":48.6,"p":-65.5},
{"f":1,"s":"S200","z":40,"p":-63.5},{"f":1.26,"s":"S200","z":33,"p":-61.5},{"f":1.58,"s":"S200","z":27.5,"p":-59.5},{"f":2,"s":"S200","z":23,"p":-57},{"f":2.51,"s":"S200","z":19.5,"p":-54.5},{"f":3.16,"s":"S200","z":16.8,"p":-51.5},{"f":3.98,"s":"S200","z":14.7,"p":-48},{"f":5.01,"s":"S200","z":13.1,"p":-45},{"f":6.31,"s":"S200","z":11.8,"p":-42},{"f":7.94,"s":"S200","z":10.8,"p":-39},
{"f":10,"s":"S200","z":9.9,"p":-36},{"f":12.6,"s":"S200","z":9.2,"p":-33.5},{"f":15.8,"s":"S200","z":8.5,"p":-32},{"f":20,"s":"S200","z":7.9,"p":-31},{"f":25.1,"s":"S200","z":7.3,"p":-30.3},{"f":31.6,"s":"S200","z":6.8,"p":-29.7},{"f":39.8,"s":"S200","z":6.3,"p":-29},{"f":50.1,"s":"S200","z":5.9,"p":-28.3},{"f":63.1,"s":"S200","z":5.5,"p":-27.5},{"f":79.4,"s":"S200","z":5.15,"p":-26.7},
{"f":100,"s":"S200","z":4.85,"p":-25.8},{"f":126,"s":"S200","z":4.55,"p":-24.6},{"f":158,"s":"S200","z":4.3,"p":-23.2},{"f":200,"s":"S200","z":4.07,"p":-21.8},{"f":251,"s":"S200","z":3.87,"p":-20.5},{"f":316,"s":"S200","z":3.68,"p":-19.2},{"f":398,"s":"S200","z":3.52,"p":-17.8},{"f":501,"s":"S200","z":3.37,"p":-16.5},{"f":631,"s":"S200","z":3.24,"p":-15.2},{"f":794,"s":"S200","z":3.12,"p":-14},
{"f":1000,"s":"S200","z":3.02,"p":-13},{"f":1260,"s":"S200","z":2.92,"p":-12.3},{"f":1580,"s":"S200","z":2.82,"p":-11.8},{"f":2000,"s":"S200","z":2.73,"p":-11.3},{"f":2510,"s":"S200","z":2.64,"p":-10.8},{"f":3160,"s":"S200","z":2.56,"p":-10.3},{"f":3980,"s":"S200","z":2.48,"p":-9.8},{"f":5010,"s":"S200","z":2.41,"p":-9.2},{"f":6310,"s":"S200","z":2.35,"p":-8.6},{"f":7940,"s":"S200","z":2.29,"p":-8.1},
{"f":10000,"s":"S200","z":2.24,"p":-7.6},{"f":12600,"s":"S200","z":2.19,"p":-7.1},{"f":15800,"s":"S200","z":2.15,"p":-6.6},{"f":20000,"s":"S200","z":2.11,"p":-6.1},{"f":25100,"s":"S200","z":2.07,"p":-5.6},{"f":31600,"s":"S200","z":2.04,"p":-5.1},{"f":39800,"s":"S200","z":2.01,"p":-4.7},{"f":50100,"s":"S200","z":1.98,"p":-4.3},{"f":63100,"s":"S200","z":1.96,"p":-3.9},{"f":79400,"s":"S200","z":1.94,"p":-3.5},
{"f":0.01,"s":"S300","z":1200,"p":-57.5},{"f":0.0126,"s":"S300","z":1040,"p":-58.5},{"f":0.0158,"s":"S300","z":900,"p":-59.6},{"f":0.02,"s":"S300","z":780,"p":-61},{"f":0.0251,"s":"S300","z":675,"p":-62.3},{"f":0.0316,"s":"S300","z":585,"p":-63.5},{"f":0.0398,"s":"S300","z":505,"p":-64.7},{"f":0.0501,"s":"S300","z":440,"p":-65.8},{"f":0.0631,"s":"S300","z":380,"p":-66.8},{"f":0.0794,"s":"S300","z":330,"p":-67.8},
{"f":0.1,"s":"S300","z":285,"p":-68.7},{"f":0.126,"s":"S300","z":238,"p":-69.4},{"f":0.158,"s":"S300","z":198,"p":-70},{"f":0.2,"s":"S300","z":165,"p":-70.3},{"f":0.251,"s":"S300","z":137,"p":-70.5},{"f":0.316,"s":"S300","z":113,"p":-70.5},{"f":0.398,"s":"S300","z":93,"p":-70.2},{"f":0.501,"s":"S300","z":77,"p":-69.8},{"f":0.631,"s":"S300","z":63,"p":-69},{"f":0.794,"s":"S300","z":51.5,"p":-67.8},
{"f":1,"s":"S300","z":42,"p":-66.3},{"f":1.26,"s":"S300","z":34,"p":-64.5},{"f":1.58,"s":"S300","z":28,"p":-62.3},{"f":2,"s":"S300","z":23,"p":-60},{"f":2.51,"s":"S300","z":19.3,"p":-57.5},{"f":3.16,"s":"S300","z":16.3,"p":-54.8},{"f":3.98,"s":"S300","z":14,"p":-51.8},{"f":5.01,"s":"S300","z":12.3,"p":-48.5},{"f":6.31,"s":"S300","z":11,"p":-45},{"f":7.94,"s":"S300","z":9.9,"p":-41.5},
{"f":10,"s":"S300","z":9,"p":-38},{"f":12.6,"s":"S300","z":8.3,"p":-35},{"f":15.8,"s":"S300","z":7.7,"p":-33},{"f":20,"s":"S300","z":7.1,"p":-31.5},{"f":25.1,"s":"S300","z":6.6,"p":-30.5},{"f":31.6,"s":"S300","z":6.1,"p":-29.7},{"f":39.8,"s":"S300","z":5.65,"p":-29},{"f":50.1,"s":"S300","z":5.25,"p":-28.3},{"f":63.1,"s":"S300","z":4.9,"p":-27.5},{"f":79.4,"s":"S300","z":4.6,"p":-26.7},
{"f":100,"s":"S300","z":4.3,"p":-25.8},{"f":126,"s":"S300","z":4.05,"p":-24.5},{"f":158,"s":"S300","z":3.82,"p":-23},{"f":200,"s":"S300","z":3.62,"p":-21.6},{"f":251,"s":"S300","z":3.44,"p":-20.3},{"f":316,"s":"S300","z":3.28,"p":-19},{"f":398,"s":"S300","z":3.14,"p":-17.6},{"f":501,"s":"S300","z":3.01,"p":-16.3},{"f":631,"s":"S300","z":2.9,"p":-15},{"f":794,"s":"S300","z":2.8,"p":-13.9},
{"f":1000,"s":"S300","z":2.71,"p":-13},{"f":1260,"s":"S300","z":2.62,"p":-12.4},{"f":1580,"s":"S300","z":2.54,"p":-11.9},{"f":2000,"s":"S300","z":2.46,"p":-11.4},{"f":2510,"s":"S300","z":2.39,"p":-10.9},{"f":3160,"s":"S300","z":2.32,"p":-10.4},{"f":3980,"s":"S300","z":2.25,"p":-9.8},{"f":5010,"s":"S300","z":2.19,"p":-9.2},{"f":6310,"s":"S300","z":2.13,"p":-8.6},{"f":7940,"s":"S300","z":2.08,"p":-8.1},
{"f":10000,"s":"S300","z":2.03,"p":-7.6},{"f":12600,"s":"S300","z":1.99,"p":-7.1},{"f":15800,"s":"S300","z":1.95,"p":-6.6},{"f":20000,"s":"S300","z":1.91,"p":-6.1},{"f":25100,"s":"S300","z":1.88,"p":-5.6},{"f":31600,"s":"S300","z":1.85,"p":-5.1},{"f":39800,"s":"S300","z":1.82,"p":-4.6},{"f":50100,"s":"S300","z":1.8,"p":-4.1},{"f":63100,"s":"S300","z":1.78,"p":-3.5},{"f":79400,"s":"S300","z":1.76,"p":-3}
]
},
"concat":[
{"width":960,"height":772,"layer":[
{"data":{"name":"n05"},"mark":{"type":"line","strokeWidth":2},"encoding":{
"x":{"field":"x","type":"quantitative","scale":{"domain":[0,1600],"nice":false,"zero":false},"axis":{"title":"Z' (Ω·cm²)","format":"d","values":[0,100,200,300,400,500,600,700,800,900,1000,1100,1200,1300,1400,1500,1600],"labelExpr":"datum.value%200===0?datum.label:''","tickSize":{"condition":{"test":"datum.value%200===0","value":13},"value":7}}},
"y":{"field":"y","type":"quantitative","scale":{"domain":[0,-1600],"nice":false,"zero":false},"axis":{"title":"Z'' (Ω·cm²)","format":"d","values":[0,-100,-200,-300,-400,-500,-600,-700,-800,-900,-1000,-1100,-1200,-1300,-1400,-1500,-1600],"labelExpr":"datum.value%200===0?datum.label:''","tickSize":{"condition":{"test":"datum.value%200===0","value":13},"value":7}}},
"stroke":{"field":"s","type":"nominal","scale":{"domain":["S300","S200","S100","WS"],"range":["#6cc6a0","#5b7fc0","#e6787b","#777777"]},"legend":null}}},
{"data":{"name":"n05"},"mark":{"type":"point","filled":true,"size":1700,"opacity":1},"encoding":{
"x":{"field":"x","type":"quantitative"},"y":{"field":"y","type":"quantitative"},
"color":{"field":"s","type":"nominal","scale":{"domain":["WS","S100","S200","S300"],"range":["#4b4b4b","#e9454a","#3060ae","#28a678"]},"legend":{"orient":"bottom-right","offset":5,"title":null}},
"shape":{"field":"s","type":"nominal","scale":{"domain":["WS","S100","S200","S300"],"range":["M-2.2,0H-0.45M0.45,0H2.2M-0.45,-0.45H0.45V0.45H-0.45Z","M-2.2,0H-0.5M0.5,0H2.2M0.5,0A0.5,0.5,0,1,1,-0.5,0A0.5,0.5,0,1,1,0.5,0Z","M-2.2,0H-0.55M0.55,0H2.2M0,-0.58L0.58,0.42H-0.58Z","M-2.2,0H-0.55M0.55,0H2.2M0,0.58L0.58,-0.42H-0.58Z"]},"legend":{"orient":"bottom-right","offset":5,"title":null}}}},
{"data":{"values":[{"x":30,"y":-1555,"l":"0.5 M NaOH"}]},"mark":{"type":"text","align":"left","baseline":"middle","fontSize":38,"fontWeight":"bold","color":"#000"},"encoding":{"x":{"field":"x","type":"quantitative"},"y":{"field":"y","type":"quantitative"},"text":{"field":"l"}}},
{"data":{"values":[{"x":1590,"y":-1366,"l":"(a)"}]},"mark":{"type":"text","align":"right","baseline":"middle","fontSize":56,"fontWeight":"bold","color":"#000"},"encoding":{"x":{"field":"x","type":"quantitative"},"y":{"field":"y","type":"quantitative"},"text":{"field":"l"}}}
]},
{"width":960,"height":772,"layer":[
{"data":{"name":"b05"},"mark":{"type":"line","strokeWidth":2},"encoding":{
"x":{"field":"f","type":"quantitative","scale":{"type":"log","domain":[0.01,100000],"nice":false},"axis":{"title":"Frequency (Hz)","values":[0.01,0.02,0.03,0.04,0.05,0.06,0.07,0.08,0.09,0.1,0.2,0.3,0.4,0.5,0.6,0.7,0.8,0.9,1,2,3,4,5,6,7,8,9,10,20,30,40,50,60,70,80,90,100,200,300,400,500,600,700,800,900,1000,2000,3000,4000,5000,6000,7000,8000,9000,10000,20000,30000,40000,50000,60000,70000,80000,90000,100000],"labelExpr":"datum.value===0.01?'10⁻²':datum.value===0.1?'10⁻¹':datum.value===1?'10⁰':datum.value===10?'10¹':datum.value===100?'10²':datum.value===1000?'10³':datum.value===10000?'10⁴':datum.value===100000?'10⁵':''","tickSize":{"condition":{"test":"indexof([0.01,0.1,1,10,100,1000,10000,100000],datum.value)>=0","value":13},"value":7}}},
"y":{"field":"z","type":"quantitative","scale":{"type":"log","domain":[1,3000],"nice":false},"axis":{"title":"|Z| (Ω·cm²)","values":[1,2,3,4,5,6,7,8,9,10,20,30,40,50,60,70,80,90,100,200,300,400,500,600,700,800,900,1000,2000,3000],"labelExpr":"datum.value===1?'10⁰':datum.value===10?'10¹':datum.value===100?'10²':datum.value===1000?'10³':''","tickSize":{"condition":{"test":"indexof([1,10,100,1000],datum.value)>=0","value":13},"value":7}}},
"stroke":{"field":"s","type":"nominal","scale":{"domain":["S300","S200","S100","WS"],"range":["#6cc6a0","#5b7fc0","#e6787b","#777777"]},"legend":null}}},
{"data":{"name":"b05"},"mark":{"type":"point","filled":true,"size":1600,"opacity":1},"encoding":{
"x":{"field":"f","type":"quantitative"},"y":{"field":"z","type":"quantitative"},
"color":{"field":"s","type":"nominal","scale":{"domain":["WS","S100","S200","S300"],"range":["#4b4b4b","#e9454a","#3060ae","#28a678"]},"legend":{"orient":"top-right","title":null}},
"shape":{"field":"s","type":"nominal","scale":{"domain":["WS","S100","S200","S300"],"range":["M-2.2,0H-0.45M0.45,0H2.2M-0.45,-0.45H0.45V0.45H-0.45Z","M-2.2,0H-0.5M0.5,0H2.2M0.5,0A0.5,0.5,0,1,1,-0.5,0A0.5,0.5,0,1,1,0.5,0Z","M-2.2,0H-0.55M0.55,0H2.2M0,-0.58L0.58,0.42H-0.58Z","M-2.2,0H-0.55M0.55,0H2.2M0,0.58L0.58,-0.42H-0.58Z"]},"legend":{"orient":"top-right","title":null}}}},
{"data":{"values":[{"f":0.0165,"z":2390,"l":"0.5 M NaOH"}]},"mark":{"type":"text","align":"left","baseline":"middle","fontSize":38,"fontWeight":"bold","color":"#000"},"encoding":{"x":{"field":"f","type":"quantitative"},"y":{"field":"z","type":"quantitative"},"text":{"field":"l"}}},
{"data":{"values":[{"f":100000,"z":217,"l":"(b)"}]},"mark":{"type":"text","align":"right","baseline":"middle","fontSize":56,"fontWeight":"bold","color":"#000"},"encoding":{"x":{"field":"f","type":"quantitative"},"y":{"field":"z","type":"quantitative"},"text":{"field":"l"}}}
]},
{"width":960,"height":772,"layer":[
{"data":{"name":"b05"},"mark":{"type":"line","strokeWidth":2},"encoding":{
"x":{"field":"f","type":"quantitative","scale":{"type":"log","domain":[0.01,100000],"nice":false},"axis":{"title":"Potential vs SCE (V)","values":[0.01,0.02,0.03,0.04,0.05,0.06,0.07,0.08,0.09,0.1,0.2,0.3,0.4,0.5,0.6,0.7,0.8,0.9,1,2,3,4,5,6,7,8,9,10,20,30,40,50,60,70,80,90,100,200,300,400,500,600,700,800,900,1000,2000,3000,4000,5000,6000,7000,8000,9000,10000,20000,30000,40000,50000,60000,70000,80000,90000,100000],"labelExpr":"datum.value===0.01?'10⁻²':datum.value===0.1?'10⁻¹':datum.value===1?'10⁰':datum.value===10?'10¹':datum.value===100?'10²':datum.value===1000?'10³':datum.value===10000?'10⁴':datum.value===100000?'10⁵':''","tickSize":{"condition":{"test":"indexof([0.01,0.1,1,10,100,1000,10000,100000],datum.value)>=0","value":13},"value":7}}},
"y":{"field":"p","type":"quantitative","scale":{"domain":[0,-90],"nice":false,"zero":false},"axis":{"title":"Theta (Grades)","format":"d","values":[0,-5,-10,-15,-20,-25,-30,-35,-40,-45,-50,-55,-60,-65,-70,-75,-80,-85,-90],"labelExpr":"datum.value%10===0?datum.label:''","tickSize":{"condition":{"test":"datum.value%10===0","value":13},"value":7}}},
"stroke":{"field":"s","type":"nominal","scale":{"domain":["S300","S200","S100","WS"],"range":["#6cc6a0","#5b7fc0","#e6787b","#777777"]},"legend":null}}},
{"data":{"name":"b05"},"mark":{"type":"point","filled":true,"size":1600,"opacity":1},"encoding":{
"x":{"field":"f","type":"quantitative"},"y":{"field":"p","type":"quantitative"},
"color":{"field":"s","type":"nominal","scale":{"domain":["WS","S100","S200","S300"],"range":["#4b4b4b","#e9454a","#3060ae","#28a678"]},"legend":{"orient":"top-right","title":null}},
"shape":{"field":"s","type":"nominal","scale":{"domain":["WS","S100","S200","S300"],"range":["M-2.2,0H-0.45M0.45,0H2.2M-0.45,-0.45H0.45V0.45H-0.45Z","M-2.2,0H-0.5M0.5,0H2.2M0.5,0A0.5,0.5,0,1,1,-0.5,0A0.5,0.5,0,1,1,0.5,0Z","M-2.2,0H-0.55M0.55,0H2.2M0,-0.58L0.58,0.42H-0.58Z","M-2.2,0H-0.55M0.55,0H2.2M0,0.58L0.58,-0.42H-0.58Z"]},"legend":{"orient":"top-right","title":null}}}},
{"data":{"values":[{"f":0.016,"p":-87.4,"l":"0.5 M NaOH"}]},"mark":{"type":"text","align":"left","baseline":"middle","fontSize":38,"fontWeight":"bold","color":"#000"},"encoding":{"x":{"field":"f","type":"quantitative"},"y":{"field":"p","type":"quantitative"},"text":{"field":"l"}}},
{"data":{"values":[{"f":100000,"p":-60.5,"l":"(c)"}]},"mark":{"type":"text","align":"right","baseline":"middle","fontSize":56,"fontWeight":"bold","color":"#000"},"encoding":{"x":{"field":"f","type":"quantitative"},"y":{"field":"p","type":"quantitative"},"text":{"field":"l"}}}
]},
{"width":960,"height":772,"layer":[
{"data":{"name":"n15"},"mark":{"type":"line","strokeWidth":2},"encoding":{
"x":{"field":"x","type":"quantitative","scale":{"domain":[0,1600],"nice":false,"zero":false},"axis":{"title":"Z'(Ω·cm²)","format":"d","values":[0,100,200,300,400,500,600,700,800,900,1000,1100,1200,1300,1400,1500,1600],"labelExpr":"datum.value%200===0?datum.label:''","tickSize":{"condition":{"test":"datum.value%200===0","value":13},"value":7}}},
"y":{"field":"y","type":"quantitative","scale":{"domain":[0,-1600],"nice":false,"zero":false},"axis":{"title":"Z'' (Ω·cm²)","format":"d","values":[0,-100,-200,-300,-400,-500,-600,-700,-800,-900,-1000,-1100,-1200,-1300,-1400,-1500,-1600],"labelExpr":"datum.value%200===0?datum.label:''","tickSize":{"condition":{"test":"datum.value%200===0","value":13},"value":7}}},
"stroke":{"field":"s","type":"nominal","scale":{"domain":["S300","S200","S100","WS"],"range":["#6cc6a0","#5b7fc0","#e6787b","#777777"]},"legend":null}}},
{"data":{"name":"n15"},"mark":{"type":"point","filled":true,"size":1700,"opacity":1},"encoding":{
"x":{"field":"x","type":"quantitative"},"y":{"field":"y","type":"quantitative"},
"color":{"field":"s","type":"nominal","scale":{"domain":["WS","S100","S200","S300"],"range":["#4b4b4b","#e9454a","#3060ae","#28a678"]},"legend":{"orient":"bottom-right","offset":7,"title":null}},
"shape":{"field":"s","type":"nominal","scale":{"domain":["WS","S100","S200","S300"],"range":["M-2.2,0H-0.45M0.45,0H2.2M-0.45,-0.45H0.45V0.45H-0.45Z","M-2.2,0H-0.5M0.5,0H2.2M0.5,0A0.5,0.5,0,1,1,-0.5,0A0.5,0.5,0,1,1,0.5,0Z","M-2.2,0H-0.55M0.55,0H2.2M0,-0.58L0.58,0.42H-0.58Z","M-2.2,0H-0.55M0.55,0H2.2M0,0.58L0.58,-0.42H-0.58Z"]},"legend":{"orient":"bottom-right","offset":7,"title":null}}}},
{"data":{"values":[{"x":30,"y":-1548,"l":"1.5 M NaOH"}]},"mark":{"type":"text","align":"left","baseline":"middle","fontSize":38,"fontWeight":"bold","color":"#000"},"encoding":{"x":{"field":"x","type":"quantitative"},"y":{"field":"y","type":"quantitative"},"text":{"field":"l"}}},
{"data":{"values":[{"x":1590,"y":-1364,"l":"(d)"}]},"mark":{"type":"text","align":"right","baseline":"middle","fontSize":56,"fontWeight":"bold","color":"#000"},"encoding":{"x":{"field":"x","type":"quantitative"},"y":{"field":"y","type":"quantitative"},"text":{"field":"l"}}}
]},
{"width":960,"height":772,"layer":[
{"data":{"name":"b15"},"mark":{"type":"line","strokeWidth":2},"encoding":{
"x":{"field":"f","type":"quantitative","scale":{"type":"log","domain":[0.01,100000],"nice":false},"axis":{"title":"Frequency (Hz)","values":[0.01,0.02,0.03,0.04,0.05,0.06,0.07,0.08,0.09,0.1,0.2,0.3,0.4,0.5,0.6,0.7,0.8,0.9,1,2,3,4,5,6,7,8,9,10,20,30,40,50,60,70,80,90,100,200,300,400,500,600,700,800,900,1000,2000,3000,4000,5000,6000,7000,8000,9000,10000,20000,30000,40000,50000,60000,70000,80000,90000,100000],"labelExpr":"datum.value===0.01?'10⁻²':datum.value===0.1?'10⁻¹':datum.value===1?'10⁰':datum.value===10?'10¹':datum.value===100?'10²':datum.value===1000?'10³':datum.value===10000?'10⁴':datum.value===100000?'10⁵':''","tickSize":{"condition":{"test":"indexof([0.01,0.1,1,10,100,1000,10000,100000],datum.value)>=0","value":13},"value":7}}},
"y":{"field":"z","type":"quantitative","scale":{"type":"log","domain":[1,3000],"nice":false},"axis":{"title":"|Z| (Ω·cm²)","values":[1,2,3,4,5,6,7,8,9,10,20,30,40,50,60,70,80,90,100,200,300,400,500,600,700,800,900,1000,2000,3000],"labelExpr":"datum.value===1?'10⁰':datum.value===10?'10¹':datum.value===100?'10²':datum.value===1000?'10³':''","tickSize":{"condition":{"test":"indexof([1,10,100,1000],datum.value)>=0","value":13},"value":7}}},
"stroke":{"field":"s","type":"nominal","scale":{"domain":["S300","S200","S100","WS"],"range":["#6cc6a0","#5b7fc0","#e6787b","#777777"]},"legend":null}}},
{"data":{"name":"b15"},"mark":{"type":"point","filled":true,"size":1600,"opacity":1},"encoding":{
"x":{"field":"f","type":"quantitative"},"y":{"field":"z","type":"quantitative"},
"color":{"field":"s","type":"nominal","scale":{"domain":["WS","S100","S200","S300"],"range":["#4b4b4b","#e9454a","#3060ae","#28a678"]},"legend":{"orient":"top-right","title":null}},
"shape":{"field":"s","type":"nominal","scale":{"domain":["WS","S100","S200","S300"],"range":["M-2.2,0H-0.45M0.45,0H2.2M-0.45,-0.45H0.45V0.45H-0.45Z","M-2.2,0H-0.5M0.5,0H2.2M0.5,0A0.5,0.5,0,1,1,-0.5,0A0.5,0.5,0,1,1,0.5,0Z","M-2.2,0H-0.55M0.55,0H2.2M0,-0.58L0.58,0.42H-0.58Z","M-2.2,0H-0.55M0.55,0H2.2M0,0.58L0.58,-0.42H-0.58Z"]},"legend":{"orient":"top-right","title":null}}}},
{"data":{"values":[{"f":0.0165,"z":2310,"l":"1.5 M NaOH"}]},"mark":{"type":"text","align":"left","baseline":"middle","fontSize":38,"fontWeight":"bold","color":"#000"},"encoding":{"x":{"field":"f","type":"quantitative"},"y":{"field":"z","type":"quantitative"},"text":{"field":"l"}}},
{"data":{"values":[{"f":100000,"z":206,"l":"(e)"}]},"mark":{"type":"text","align":"right","baseline":"middle","fontSize":56,"fontWeight":"bold","color":"#000"},"encoding":{"x":{"field":"f","type":"quantitative"},"y":{"field":"z","type":"quantitative"},"text":{"field":"l"}}}
]},
{"width":960,"height":772,"layer":[
{"data":{"name":"b15"},"mark":{"type":"line","strokeWidth":2},"encoding":{
"x":{"field":"f","type":"quantitative","scale":{"type":"log","domain":[0.01,100000],"nice":false},"axis":{"title":"Frequency (Hz)","values":[0.01,0.02,0.03,0.04,0.05,0.06,0.07,0.08,0.09,0.1,0.2,0.3,0.4,0.5,0.6,0.7,0.8,0.9,1,2,3,4,5,6,7,8,9,10,20,30,40,50,60,70,80,90,100,200,300,400,500,600,700,800,900,1000,2000,3000,4000,5000,6000,7000,8000,9000,10000,20000,30000,40000,50000,60000,70000,80000,90000,100000],"labelExpr":"datum.value===0.01?'10⁻²':datum.value===0.1?'10⁻¹':datum.value===1?'10⁰':datum.value===10?'10¹':datum.value===100?'10²':datum.value===1000?'10³':datum.value===10000?'10⁴':datum.value===100000?'10⁵':''","tickSize":{"condition":{"test":"indexof([0.01,0.1,1,10,100,1000,10000,100000],datum.value)>=0","value":13},"value":7}}},
"y":{"field":"p","type":"quantitative","scale":{"domain":[0,-90],"nice":false,"zero":false},"axis":{"title":"Theta (Grades)","format":"d","values":[0,-5,-10,-15,-20,-25,-30,-35,-40,-45,-50,-55,-60,-65,-70,-75,-80,-85,-90],"labelExpr":"datum.value%10===0?datum.label:''","tickSize":{"condition":{"test":"datum.value%10===0","value":13},"value":7}}},
"stroke":{"field":"s","type":"nominal","scale":{"domain":["S300","S200","S100","WS"],"range":["#6cc6a0","#5b7fc0","#e6787b","#777777"]},"legend":null}}},
{"data":{"name":"b15"},"mark":{"type":"point","filled":true,"size":1600,"opacity":1},"encoding":{
"x":{"field":"f","type":"quantitative"},"y":{"field":"p","type":"quantitative"},
"color":{"field":"s","type":"nominal","scale":{"domain":["WS","S100","S200","S300"],"range":["#4b4b4b","#e9454a","#3060ae","#28a678"]},"legend":{"orient":"top-right","title":null}},
"shape":{"field":"s","type":"nominal","scale":{"domain":["WS","S100","S200","S300"],"range":["M-2.2,0H-0.45M0.45,0H2.2M-0.45,-0.45H0.45V0.45H-0.45Z","M-2.2,0H-0.5M0.5,0H2.2M0.5,0A0.5,0.5,0,1,1,-0.5,0A0.5,0.5,0,1,1,0.5,0Z","M-2.2,0H-0.55M0.55,0H2.2M0,-0.58L0.58,0.42H-0.58Z","M-2.2,0H-0.55M0.55,0H2.2M0,0.58L0.58,-0.42H-0.58Z"]},"legend":{"orient":"top-right","title":null}}}},
{"data":{"values":[{"f":0.016,"p":-87.1,"l":"1.5 M NaOH"}]},"mark":{"type":"text","align":"left","baseline":"middle","fontSize":38,"fontWeight":"bold","color":"#000"},"encoding":{"x":{"field":"f","type":"quantitative"},"y":{"field":"p","type":"quantitative"},"text":{"field":"l"}}},
{"data":{"values":[{"f":100000,"p":-59.9,"l":"(f)"}]},"mark":{"type":"text","align":"right","baseline":"middle","fontSize":56,"fontWeight":"bold","color":"#000"},"encoding":{"x":{"field":"f","type":"quantitative"},"y":{"field":"p","type":"quantitative"},"text":{"field":"l"}}}
]}
],
"columns":3,
"spacing":{"row":249,"column":276},
"bounds":"flush",
"resolve":{"scale":{"color":"independent","shape":"independent","stroke":"independent"},"legend":{"color":"independent","shape":"independent","stroke":"independent"}}
}
